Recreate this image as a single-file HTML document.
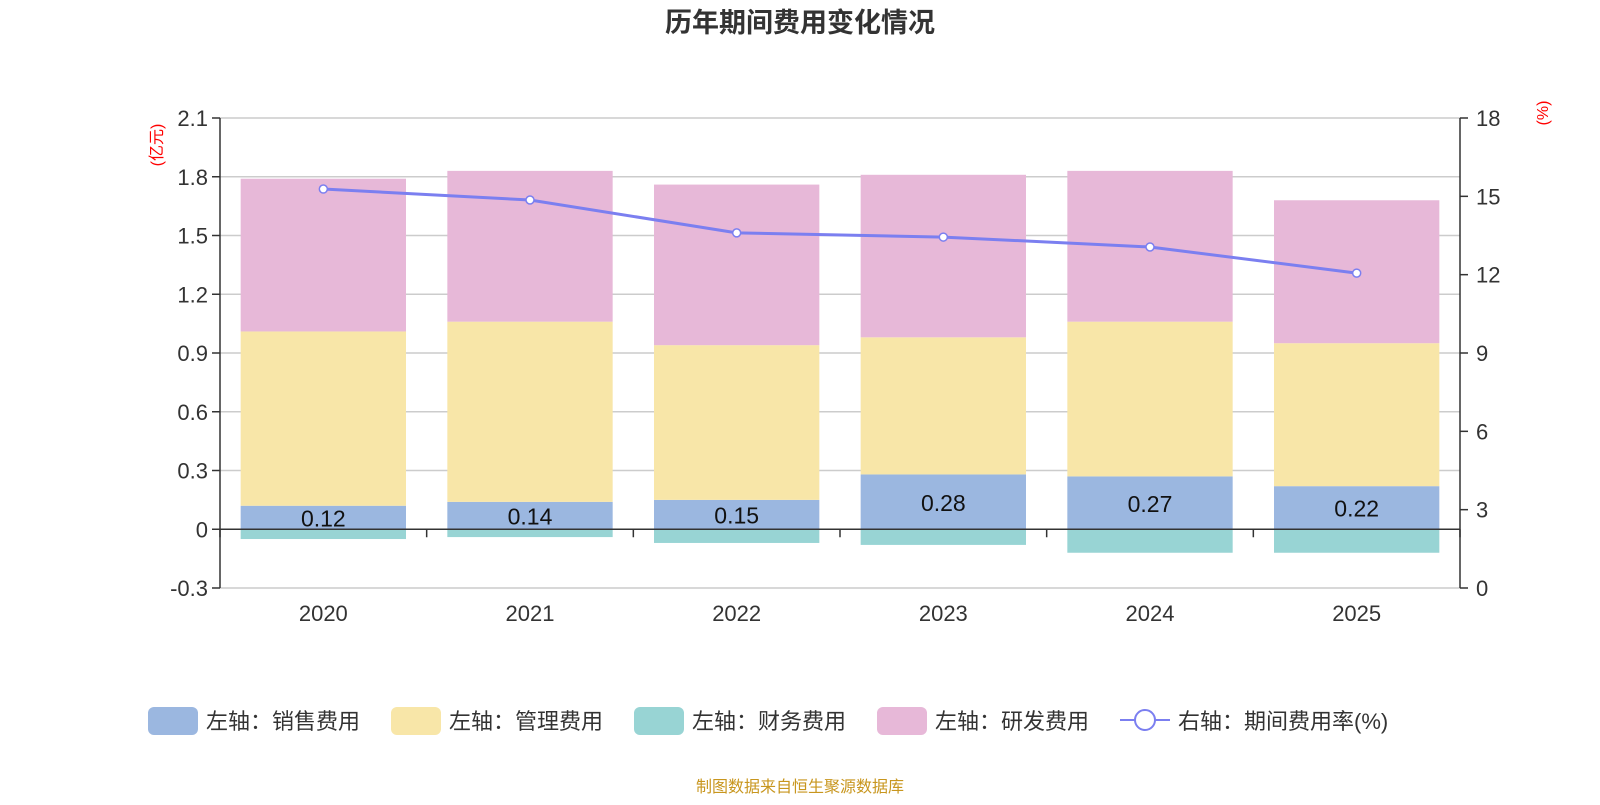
<!DOCTYPE html>
<html><head><meta charset="utf-8"><style>
body{margin:0;background:#fff;font-family:"Liberation Sans","Noto Sans CJK SC",sans-serif;}
svg text{font-family:"Liberation Sans","Noto Sans CJK SC",sans-serif;}
</style></head><body>
<svg id="c" width="1600" height="800" xmlns="http://www.w3.org/2000/svg">
<text x="800" y="32" text-anchor="middle" font-size="27" font-weight="bold" fill="#333">历年期间费用变化情况</text>
<text transform="translate(162,145) rotate(-90)" text-anchor="middle" font-size="16" fill="#f00">(亿元)</text>
<text transform="translate(1548,113) rotate(-90)" text-anchor="middle" font-size="16" fill="#f00">(%)</text>
<g id="grid"></g><g id="bars"></g><g id="axes"></g><g id="line"></g><g id="legend"></g>
<text x="800" y="792" text-anchor="middle" font-size="16" fill="#c8961e">制图数据来自恒生聚源数据库</text>
</svg>
<script>
const categories=["2020","2021","2022","2023","2024","2025"];
const sales=[0.12,0.14,0.15,0.28,0.27,0.22];
const mgmt=[0.89,0.92,0.79,0.70,0.79,0.73];
const finance=[-0.05,-0.04,-0.07,-0.08,-0.12,-0.12];
const rnd=[0.78,0.77,0.82,0.83,0.77,0.73];
const rate=[15.28,14.86,13.6,13.44,13.06,12.06];
const leftTicks=[-0.3,0,0.3,0.6,0.9,1.2,1.5,1.8,2.1];
const rightTicks=[0,3,6,9,12,15,18];
const NS="http://www.w3.org/2000/svg";
const X0=220,X1=1460,YT=118,YB=588;
const yL=v=>YB-(v+0.3)/2.4*(YB-YT);
const yR=v=>YB-v/18*(YB-YT);
const cw=(X1-X0)/categories.length;
const xC=i=>X0+cw*(i+0.5);
function mk(tag,at,parent,txt){const e=document.createElementNS(NS,tag);for(const k in at)e.setAttribute(k,at[k]);if(txt!==undefined)e.textContent=txt;document.getElementById(parent).appendChild(e);return e;}
leftTicks.forEach(t=>{
 const l=mk('line',{x1:X0,x2:X1,y1:yL(t),y2:yL(t),stroke:'#ccc','stroke-width':1.5},'grid');
 
 
 const tk=mk('line',{x1:X0-8,x2:X0,y1:yL(t),y2:yL(t),stroke:'#333','stroke-width':1.5},'axes');
 
 
 const tx=mk('text',{x:X0-12,y:yL(t)+8,'text-anchor':'end','font-size':22,fill:'#333'},'axes',String(t));
 
 
});
rightTicks.forEach(t=>{
 const tk=mk('line',{x1:X1,x2:X1+8,y1:yR(t),y2:yR(t),stroke:'#333','stroke-width':1.5},'axes');
 
 
 const tx=mk('text',{x:X1+16,y:yR(t)+8,'font-size':22,fill:'#333'},'axes',String(t));
 
 
});
let a=mk('line',{x1:X0,x2:X0,y1:YT,y2:YB,stroke:'#333','stroke-width':1.5},'axes');

a=mk('line',{x1:X1,x2:X1,y1:YT,y2:YB,stroke:'#333','stroke-width':1.5},'axes');

a=mk('line',{x1:X0,x2:X1,y1:yL(0),y2:yL(0),stroke:'#333','stroke-width':1.5},'axes');

for(let i=0;i<=categories.length;i++){
 const tk=mk('line',{x1:X0+cw*i,x2:X0+cw*i,y1:yL(0),y2:yL(0)+8,stroke:'#333','stroke-width':1.5},'axes');
 
 
}
const bw=cw*0.8;
categories.forEach((c,i)=>{
 const x=xC(i)-bw/2;
 const segs=[[0,sales[i],'#9bb7e0','bar-sales'],[sales[i],sales[i]+mgmt[i],'#f8e6a8','bar-management'],[sales[i]+mgmt[i],sales[i]+mgmt[i]+rnd[i],'#e7b8d8','bar-rnd'],[finance[i],0,'#98d4d4','bar-finance']];
 segs.forEach(s=>{
  const r=mk('rect',{x:x,width:bw,y:yL(Math.max(s[0],s[1])),height:Math.abs(yL(s[0])-yL(s[1])),fill:s[2]},'bars');
  
  
 });
 const lb=mk('text',{x:xC(i),y:(yL(0)+yL(sales[i]))/2+9,'text-anchor':'middle','font-size':23,fill:'#111'},'bars',sales[i].toFixed(2));
 
 
 const xl=mk('text',{x:xC(i),y:621,'text-anchor':'middle','font-size':22,fill:'#333'},'axes',c);
 
 
});
const pts=rate.map((v,i)=>xC(i)+','+yR(v)).join(' ');
const pl=mk('polyline',{points:pts,fill:'none',stroke:'#7b7ff0','stroke-width':3},'line');


rate.forEach((v,i)=>{
 const p=mk('circle',{cx:xC(i),cy:yR(v),r:4,fill:'#fff',stroke:'#7b7ff0','stroke-width':1.5},'line');
 
 
});
const leg=[['左轴：销售费用','#9bb7e0',148],['左轴：管理费用','#f8e6a8',391],['左轴：财务费用','#98d4d4',634],['左轴：研发费用','#e7b8d8',877]];
leg.forEach(l=>{
 const r=mk('rect',{x:l[2],y:707,width:50,height:28,rx:6,fill:l[1]},'legend');
 
 
 const t=mk('text',{x:l[2]+58,y:729,'font-size':22,fill:'#333'},'legend',l[0]);
 
 
});
const ll=mk('line',{x1:1120,x2:1170,y1:720,y2:720,stroke:'#7b7ff0','stroke-width':2},'legend');


const lc=mk('circle',{cx:1145,cy:720,r:10,fill:'#fff',stroke:'#7b7ff0','stroke-width':2},'legend');


const lt=mk('text',{x:1178,y:729,'font-size':22,fill:'#333'},'legend','右轴：期间费用率(%)');


</script>
</body></html>
